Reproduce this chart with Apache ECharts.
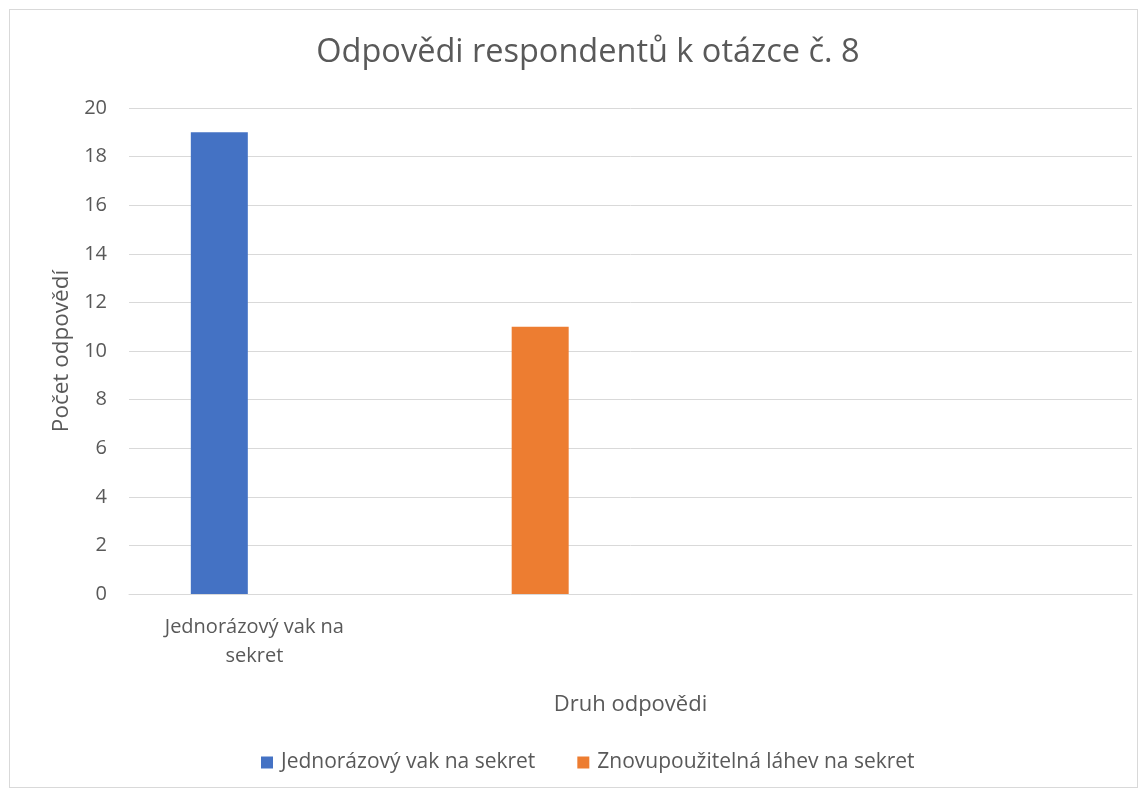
<!DOCTYPE html>
<html>
<head>
<meta charset="utf-8">
<style>
  html, body { margin: 0; padding: 0; background: #fff; }
  #frame { position: absolute; left: 9px; top: 9px; width: 1127px; height: 777px; border: 1px solid #d9d9d9; }
  #chart { position: absolute; left: 0; top: 0; width: 1146px; height: 796px; }
</style>
<script src="https://cdn.jsdelivr.net/npm/echarts@6/dist/echarts.min.js"></script>
</head>
<body>
<div id="frame"></div>
<div id="chart"></div>
<script>
// kategorie na ose x (poslední dvě jsou v grafu prázdné)
var categories = ['Jednorázový vak na sekret', 'Znovupoužitelná láhev na sekret', '', ''];
var seriesNames = ['Jednorázový vak na sekret', 'Znovupoužitelná láhev na sekret'];
var jednorazovy = [19, null, null, null];
var znovupouzitelna = [null, 11, null, null];
var yTicks = { min: 0, max: 20, step: 2 };

var font = '"Open Sans", Lato, sans-serif';
var grey = '#595959';

var chart = echarts.init(document.getElementById('chart'));
chart.setOption({
    color: ['#4472C4', '#ED7D31'],
    animation: false,
    textStyle: { fontFamily: font, color: grey },
    title: {
        text: 'Odpovědi respondentů k otázce č. 8',
        left: 583,
        textAlign: 'center',
        top: 31,
        textStyle: { fontFamily: font, fontSize: 32.5, fontWeight: 'normal', color: grey }
    },
    legend: {
        data: seriesNames,
        bottom: 18,
        left: 256,
        itemWidth: 12,
        itemHeight: 12,
        itemGap: 42,
        icon: 'rect',
        textStyle: { fontFamily: font, fontSize: 21, color: grey, padding: [0, 0, 0, 3] }
    },
    grid: { left: 129, right: 14, top: 108, bottom: 202 },
    xAxis: {
        type: 'category',
        data: categories,
        name: 'Druh odpovědi',
        nameLocation: 'middle',
        nameGap: 100,
        nameTextStyle: { fontFamily: font, fontSize: 22, color: grey },
        axisLine: { lineStyle: { color: '#d9d9d9', width: 1 } },
        axisTick: { show: false },
        axisLabel: {
            fontFamily: font, fontSize: 20, color: grey, margin: 19, lineHeight: 29,
            formatter: function (v) { return v.replace(/ sekret$/, '\nsekret'); }
        }
    },
    yAxis: {
        type: 'value',
        min: yTicks.min,
        max: yTicks.max,
        interval: yTicks.step,
        name: 'Počet odpovědí',
        nameLocation: 'middle',
        nameGap: 56,
        nameTextStyle: { fontFamily: font, fontSize: 22.5, color: grey },
        axisLine: { show: false },
        axisTick: { show: false },
        axisLabel: { fontFamily: font, fontSize: 20, color: grey, margin: 22 },
        splitLine: { lineStyle: { color: '#d9d9d9', width: 1 } }
    },
    series: [
        { name: seriesNames[0], type: 'bar', data: jednorazovy, barWidth: 57, barGap: '23%' },
        { name: seriesNames[1], type: 'bar', data: znovupouzitelna, barWidth: 57, barGap: '23%' }
    ]
});
</script>
</body>
</html>
